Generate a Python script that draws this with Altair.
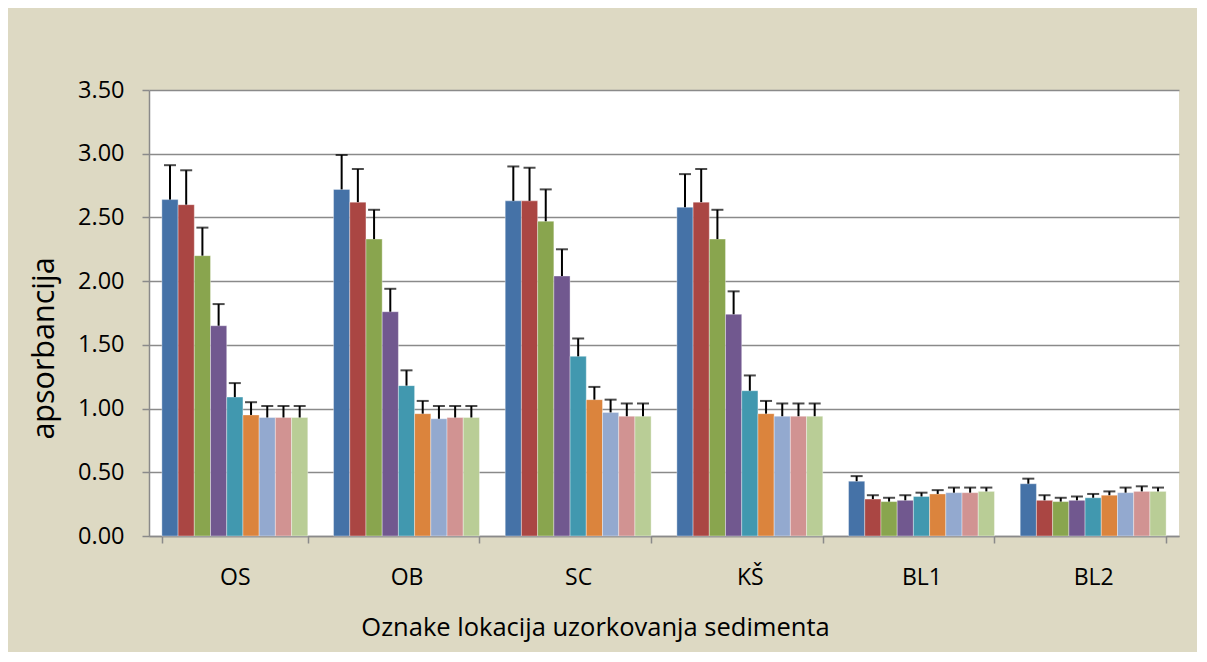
import altair as alt
import pandas as pd

categories = ["OS", "OB", "SC", "KŠ", "BL1", "BL2"]
series = ["1", "2", "3", "4", "5", "6", "7", "8", "9"]
colors = ["#4572A7", "#AA4643", "#89A54E", "#71588F", "#4198AF",
          "#DB843D", "#93A9CF", "#D19392", "#B9CD96"]

# mean values per category (9 series each)
val_OS = [2.64, 2.60, 2.20, 1.65, 1.09, 0.95, 0.93, 0.93, 0.93]
val_OB = [2.72, 2.62, 2.33, 1.76, 1.18, 0.96, 0.92, 0.93, 0.93]
val_SC = [2.63, 2.63, 2.47, 2.04, 1.41, 1.07, 0.97, 0.94, 0.94]
val_KS = [2.58, 2.62, 2.33, 1.74, 1.14, 0.96, 0.94, 0.94, 0.94]
val_BL1 = [0.43, 0.29, 0.27, 0.28, 0.31, 0.33, 0.34, 0.34, 0.35]
val_BL2 = [0.41, 0.28, 0.27, 0.28, 0.30, 0.32, 0.34, 0.35, 0.35]

# upper error bar ends
err_OS = [2.91, 2.87, 2.42, 1.82, 1.20, 1.05, 1.02, 1.02, 1.02]
err_OB = [2.99, 2.88, 2.56, 1.94, 1.30, 1.06, 1.02, 1.02, 1.02]
err_SC = [2.90, 2.89, 2.72, 2.25, 1.55, 1.17, 1.07, 1.04, 1.04]
err_KS = [2.84, 2.88, 2.56, 1.92, 1.26, 1.06, 1.04, 1.04, 1.04]
err_BL1 = [0.47, 0.32, 0.30, 0.32, 0.34, 0.36, 0.38, 0.38, 0.38]
err_BL2 = [0.45, 0.32, 0.30, 0.31, 0.33, 0.35, 0.38, 0.39, 0.38]

vals = [val_OS, val_OB, val_SC, val_KS, val_BL1, val_BL2]
errs = [err_OS, err_OB, err_SC, err_KS, err_BL1, err_BL2]

rows = []
for c, vl, el in zip(categories, vals, errs):
    for s, v, e in zip(series, vl, el):
        rows.append({"cat": c, "ser": s, "val": v, "err": e})
df = pd.DataFrame(rows)

FONT = "Open Sans"
GRID = "#8A8A8A"

x_enc = alt.X(
    "cat:N", sort=categories,
    scale=alt.Scale(paddingInner=0.15, paddingOuter=0.075),
    axis=alt.Axis(
        title="Oznake lokacija uzorkovanja sedimenta",
        labelAngle=0, labelFontSize=23, labelColor="black", labelFont=FONT,
        labelPadding=23, tickBand="extent", tickSize=7, tickColor=GRID,
        tickWidth=1.5, domainColor=GRID, domainWidth=1.5,
        titleFont=FONT, titleFontSize=25.5, titleFontWeight="normal",
        titleColor="black", titleBaseline="alphabetic", titleAlign="center",
        titleX=446, titleY=99,
    ),
)
xo_enc = alt.XOffset("ser:N", sort=series, scale=alt.Scale(paddingInner=0, paddingOuter=0))
y_scale = alt.Scale(domain=[0, 3.5], nice=False)

bars = alt.Chart(df).mark_bar(stroke="white", strokeWidth=0.6, strokeOpacity=0.6).encode(
    x=x_enc,
    xOffset=xo_enc,
    y=alt.Y(
        "val:Q", scale=y_scale,
        axis=alt.Axis(
            title="apsorbancija",
            values=[0, 0.5, 1.0, 1.5, 2.0, 2.5, 3.0, 3.5], format=".2f",
            labelFontSize=23.5, labelColor="black", labelFont=FONT, labelPadding=18,
            tickSize=7, tickColor=GRID, tickWidth=1.5,
            domainColor=GRID, domainWidth=1.5,
            grid=True, gridColor=GRID, gridWidth=1.5,
            titleFont=FONT, titleFontSize=30.5, titleFontWeight="normal",
            titleColor="black", titleAngle=-90, titleBaseline="alphabetic",
            titleAlign="center", titleX=-96, titleY=258,
        ),
    ),
    color=alt.Color("ser:N", sort=series,
                    scale=alt.Scale(domain=series, range=colors), legend=None),
)

rules = alt.Chart(df).mark_rule(color="black", strokeWidth=2).encode(
    x=alt.X("cat:N", sort=categories),
    xOffset=alt.XOffset("ser:N", sort=series),
    y=alt.Y("val:Q", scale=y_scale),
    y2="err:Q",
)

caps = alt.Chart(df).mark_tick(color="black", thickness=2, size=12).encode(
    x=alt.X("cat:N", sort=categories),
    xOffset=alt.XOffset("ser:N", sort=series),
    y=alt.Y("err:Q", scale=y_scale),
)

chart = alt.layer(bars, rules, caps).properties(
    width=1030, height=446,
    autosize=alt.AutoSizeParams(type="none"),
    padding={"left": 141, "top": 82, "right": 18, "bottom": 116},
    background="#DDD9C3",
).configure_view(
    fill="white", stroke=None,
).configure_axis(
    grid=False,
)

chart.save("out.html", embed_options={"renderer": "svg", "actions": False})
